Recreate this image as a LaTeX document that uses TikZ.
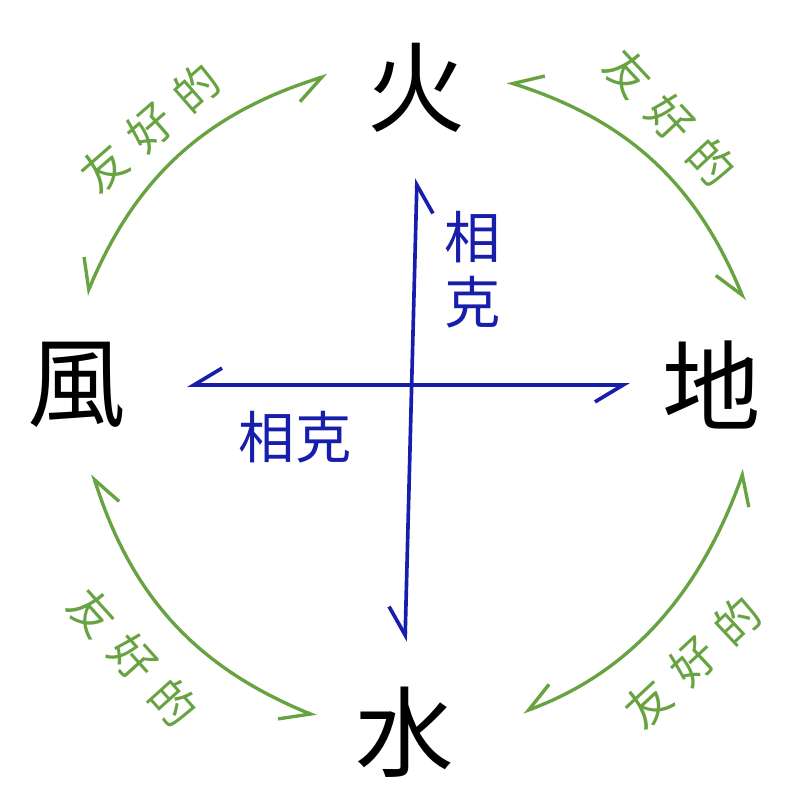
\documentclass[tikz,border=0pt]{standalone}
\usepackage{fontspec}
\usepackage{tikz}
\usetikzlibrary{arrows.meta}
\newfontfamily\jpfont{Noto Sans CJK JP}
\newfontfamily\jpspaced[LetterSpace=35]{Noto Sans CJK JP}
\definecolor{friendgreen}{RGB}{104,163,66}
\definecolor{clashblue}{RGB}{24,30,172}
\tikzset{x=0.025cm, y=-0.025cm, % One unit is one pixel of the sketch
    element/.style=
        { % The four elements, anchors lie on a circle round each
            circle,
            inner sep=0pt,
            minimum size=4.5cm,
            font=\jpfont\fontsize{70}{70}\selectfont
        },
    barb/.tip={Straight Barb[harpoon,swap,length=20pt,width=24pt]}, % Half arrowheads
    friend/.style={ % Green arcs between neighbours
        draw=friendgreen,
        line width=2.4pt, line cap=round,
        barb-barb
    },
    friendlabel/.style={
        text=friendgreen,
        font=\jpspaced\fontsize{32}{32}\selectfont
    },
    clash/.style={ % Blue cross
        draw=clashblue,
        line width=2.6pt, line cap=round,
        barb-barb
    },
    clashlabel/.style={
        text=clashblue, align=center,
        font=\jpfont\fontsize{40}{46}\selectfont
    }
}
\begin{document}
\begin{tikzpicture}
    \useasboundingbox (0,0) rectangle (800,800);
    \node[element] (fire) at (417,88) {火};
    \node[element] (earth) at (712,385) {地};
    \node[element] (water) at (405,732) {水};
    \node[element] (wind) at (77,385) {風};
    \draw[friend] (fire.172) to[bend right=25] (wind.84);
    \draw[friend] (fire.4) to[bend left=25] (earth.69);
    \draw[friend] (wind.-80) to[bend right=25] (water.170);
    \draw[friend, shorten >=0.75cm] (earth.-69) to[bend left=25] (water.6);
    \node[friendlabel, rotate=41] (fl1) at (150,128) {友好的};
    \node[friendlabel, rotate=-47] (fl2) at (670,118) {友好的};
    \node[friendlabel, rotate=-48] (fl3) at (133,658) {友好的};
    \node[friendlabel, rotate=43] (fl4) at (693,662) {友好的};
    \draw[clash] (fire.south) -- (water.north);
    \draw[clash, shorten <=0.5cm, shorten >=-0.2cm] (wind.east) -- (earth.west);
    \node[clashlabel] (cl1) at (473,270) {相\\克};
    \node[clashlabel] (cl2) at (295,437) {相克};
\end{tikzpicture}
\end{document}
